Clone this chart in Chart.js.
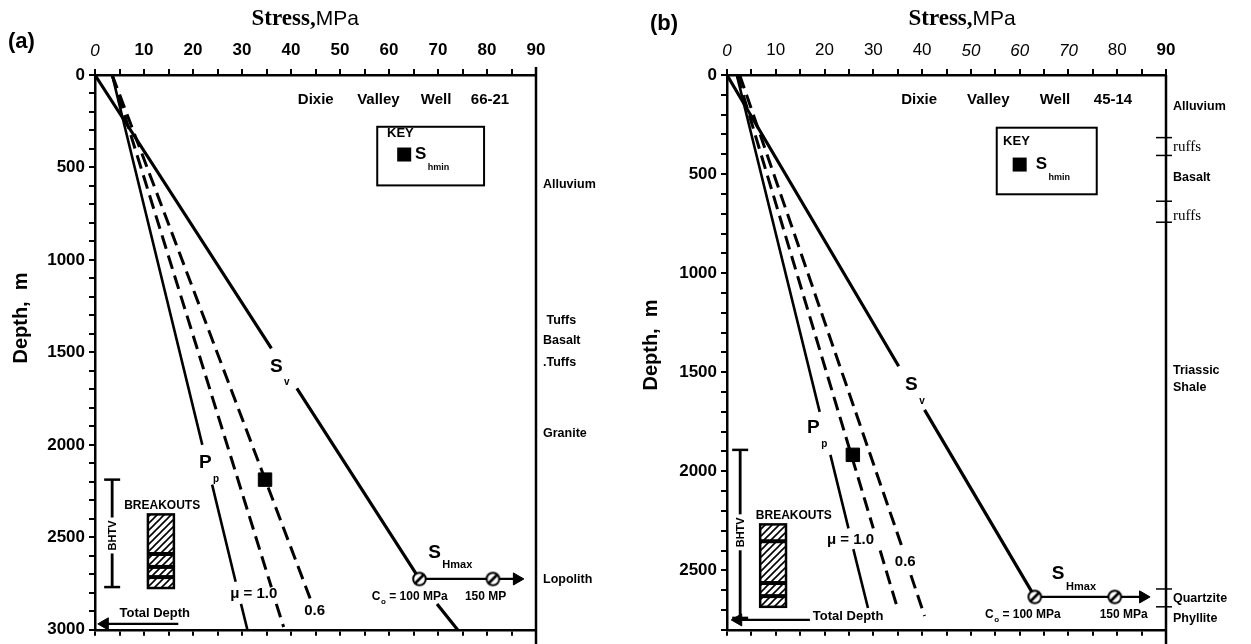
<!DOCTYPE html>
<html>
<head>
<meta charset="utf-8">
<title>Dixie Valley stress profiles</title>
<script src="https://cdn.jsdelivr.net/npm/chart.js@4.4.1/dist/chart.umd.min.js"></script>
<style>
  html, body { margin: 0; padding: 0; background: #fff; }
  #wrap { position: relative; width: 1251px; height: 644px; overflow: hidden; }
  canvas { position: absolute; top: 0; }
  #chartA { left: 0; }
  #chartB { left: 625px; }
</style>
</head>
<body>
<div id="wrap">
  <canvas id="chartA" width="625" height="644"></canvas>
  <canvas id="chartB" width="626" height="644"></canvas>
</div>
<script>
// ---------- data : points are [stress MPa, depth m], null leaves a gap for a label ----------
const stressTicks = [0, 10, 20, 30, 40, 50, 60, 70, 80, 90];
const depthLabelsA = [0, 500, 1000, 1500, 2000, 2500, 3000];
const depthLabelsB = [0, 500, 1000, 1500, 2000, 2500];

// (a) Dixie Valley Well 66-21
const svA    = [[0, 0], [36.0, 1478], null, [41.2, 1694], [66.2, 2725], null, [69.8, 2860], [74.0, 3000]];
const ppA    = [[3.5, 0], [21.9, 2000], null, [23.9, 2215], [28.7, 2740], null, [29.8, 2860], [31.1, 3000]];
const mu10A  = [[3.5, 0], [36.0, 2770], null, [37.0, 2860], [38.5, 2985]];
const mu06A  = [[3.5, 0], [43.9, 2830]];
const shminA = [[34.7, 2188]];
const shmaxA = [[66.2, 2725], [86.1, 2725]];
const coA    = [[66.2, 2725], [81.2, 2725]];      // Co = 100 MPa, 150 MPa
const bhtvA  = [[3.5, 2188], [3.5, 2769]];
const tdA    = [[17.0, 2968], [2.0, 2968]];
const breakoutXA = [10.8, 16.1];
const breakoutA = [2376, 2774];
const breakoutBandsA = [2590, 2660, 2715];
const unitsA = ['Alluvium', ' Tuffs', 'Basalt', '.Tuffs', 'Granite', 'Lopolith'];
const unitDepthsA = [591, 1328, 1435, 1554, 1941, 2726];

// (b) Dixie Valley Well 45-14
const svB    = [[0, 0], [35.2, 1470], null, [40.5, 1690], [63.1, 2634]];
const ppB    = [[2.0, 0], [19.0, 1700], null, [21.2, 1917], [24.9, 2288], null, [25.9, 2393], [28.9, 2690]];
const mu10B  = [[2.1, 0], [30.0, 2288], null, [31.4, 2400], [34.8, 2679]];
const mu06B  = [[2.6, 0], [35.9, 2383], null, [37.7, 2524], [40.5, 2730]];
const shminB = [[25.8, 1917]];
const shmaxB = [[63.1, 2634], [85.3, 2634]];
const coB    = [[63.1, 2634], [79.5, 2634]];
const bhtvB  = [[2.7, 1892], [2.7, 2740]];
const tdB    = [[17.0, 2750], [2.3, 2750]];
const breakoutXB = [6.8, 12.1];
const breakoutB = [2268, 2684];
const breakoutBandsB = [2353, 2564, 2630];
const unitsB = ['Alluvium', 'ruffs', 'Basalt', 'ruffs', 'Triassic', 'Shale', 'Quartzite', 'Phyllite'];
const unitDepthsB = [161, 366, 517, 712, 1490, 1575, 2644, 2745];
const contactsB = [316, 406, 637, 743, 2594, 2684];

// ---------- drawing helpers ----------
const SANS = '"Liberation Sans", Arial, Helvetica, sans-serif';
const SERIF = '"Liberation Serif", "Times New Roman", serif';

const hatch = (() => {
  const c = document.createElement('canvas');
  c.width = 7; c.height = 7;
  const g = c.getContext('2d');
  g.strokeStyle = '#000'; g.lineWidth = 1.6;
  g.beginPath();
  g.moveTo(-1, 8); g.lineTo(8, -1);
  g.moveTo(-1, 1); g.lineTo(1, -1);
  g.moveTo(6, 8); g.lineTo(8, 6);
  g.stroke();
  return c;
})();

const ring = (() => {
  const c = document.createElement('canvas');
  c.width = 17; c.height = 17;
  const g = c.getContext('2d');
  g.fillStyle = '#fff'; g.strokeStyle = '#000'; g.lineWidth = 2;
  g.beginPath(); g.arc(8.5, 8.5, 6.3, 0, Math.PI * 2); g.fill(); g.stroke();
  g.lineWidth = 2.6;
  g.beginPath(); g.moveTo(4.5, 12.5); g.lineTo(12.5, 4.5); g.stroke();
  return c;
})();

const toPts = arr => arr.map(p => p ? { x: p[0], y: p[1] } : { x: null, y: null });

function lineDs(arr, width, dash, cap) {
  return {
    data: toPts(arr), showLine: true, borderColor: '#000', borderWidth: width,
    borderDash: dash || [], spanGaps: false, tension: 0, clip: false,
    pointRadius: cap ? 8 : 0, pointStyle: cap ? 'line' : 'circle',
    pointBorderColor: '#000', pointBorderWidth: 2.5
  };
}

function markDs(arr, style, r, rot) {
  return {
    data: toPts(arr), showLine: false, clip: false,
    pointStyle: style, pointRadius: r, pointRotation: rot || 0,
    backgroundColor: '#000', borderColor: '#000', pointBorderWidth: 1
  };
}

const tickFontA = v => ({ family: SANS, size: 17, weight: v === 0 ? 'normal' : 'bold', style: v === 0 ? 'italic' : 'normal' });
const tickFontB = v => {
  if (v === 0 || (v >= 50 && v <= 70)) return { family: SANS, size: 17, weight: 'normal', style: 'italic' };
  return { family: SANS, size: 17, weight: v === 90 ? 'bold' : 'normal', style: 'normal' };
};

function withSub(ctx, s, sub, x, y, size, subSize, dy) {
  ctx.textAlign = 'left'; ctx.textBaseline = 'middle';
  ctx.font = `bold ${size}px ${SANS}`;
  ctx.fillText(s, x, y);
  const w = ctx.measureText(s).width;
  ctx.font = `bold ${subSize}px ${SANS}`;
  ctx.fillText(sub, x + w + 1.5, y + dy);
}

const sketch = {
  id: 'sketch',
  afterDatasetsDraw(chart, args, p) {
    const { ctx, chartArea: a, scales } = chart;
    const X = v => scales.x.getPixelForValue(v);
    const Y = d => scales.y.getPixelForValue(d);
    ctx.save();
    ctx.fillStyle = '#000'; ctx.strokeStyle = '#000';

    // frame line at 90 MPa, runs down past the plot
    ctx.lineWidth = 2.5;
    ctx.beginPath(); ctx.moveTo(X(90), a.top - p.frameRise); ctx.lineTo(X(90), chart.height); ctx.stroke();

    // lithology contacts and names
    ctx.lineWidth = 1.5;
    p.contacts.forEach(d => {
      ctx.beginPath(); ctx.moveTo(X(90) - 10, Y(d)); ctx.lineTo(X(90) + 6, Y(d)); ctx.stroke();
    });
    ctx.textAlign = 'left'; ctx.textBaseline = 'middle';
    p.units.forEach((u, i) => {
      ctx.font = u === 'ruffs' ? `normal 15px ${SERIF}` : `bold 12.5px ${SANS}`;
      ctx.fillText(u, X(90) + 7, Y(p.unitDepths[i]));
    });

    // breakouts column
    const b = p.breakout;
    const bx = X(b.x[0]), bw = X(b.x[1]) - bx, by = Y(b.d[0]), bh = Y(b.d[1]) - by;
    ctx.fillStyle = ctx.createPattern(hatch, 'repeat');
    ctx.fillRect(bx, by, bw, bh);
    ctx.fillStyle = '#000';
    b.bands.forEach(d => ctx.fillRect(bx, Y(d) - 2, bw, 4));
    ctx.lineWidth = 2.5; ctx.strokeRect(bx, by, bw, bh);
    ctx.font = `bold 12px ${SANS}`; ctx.textAlign = 'center';
    ctx.fillText('BREAKOUTS', X(b.label[0]), Y(b.label[1]));

    // BHTV label sitting on its bracket
    ctx.save();
    ctx.translate(X(p.bhtv[0][0]), Y(p.bhtvLabel));
    ctx.rotate(-Math.PI / 2);
    ctx.font = `bold 11px ${SANS}`;
    const bw2 = ctx.measureText('BHTV').width;
    ctx.fillStyle = '#fff'; ctx.fillRect(-bw2 / 2 - 3, -6, bw2 + 6, 12);
    ctx.fillStyle = '#000'; ctx.textAlign = 'center'; ctx.textBaseline = 'middle';
    ctx.fillText('BHTV', 0, 1);
    ctx.restore();

    // key
    const k = p.key;
    ctx.lineWidth = 2;
    ctx.strokeRect(X(k.box[0]), Y(k.box[2]), X(k.box[1]) - X(k.box[0]), Y(k.box[3]) - Y(k.box[2]));
    ctx.textAlign = 'left'; ctx.textBaseline = 'middle';
    ctx.font = `bold 13px ${SANS}`;
    ctx.fillText('KEY', X(k.label[0]), Y(k.label[1]));
    ctx.fillRect(X(k.sq[0]) - 7, Y(k.sq[1]) - 7, 14, 14);
    withSub(ctx, 'S', 'hmin', X(k.s[0]), Y(k.s[1]), 17, 9, 13);

    // well name
    ctx.font = `bold 15px ${SANS}`; ctx.textAlign = 'left';
    p.well.forEach((w, i) => ctx.fillText(w, X(p.wellX[i]), Y(p.wellD)));

    // curve labels
    withSub(ctx, 'P', 'p', X(p.ppLab[0]), Y(p.ppLab[1]), 19, 10, 16);
    withSub(ctx, 'S', 'v', X(p.svLab[0]), Y(p.svLab[1]), 19, 10, 16);
    withSub(ctx, 'S', 'Hmax', X(p.shLab[0]), Y(p.shLab[1]), 19, 11, 13);
    ctx.font = `bold 15px ${SANS}`; ctx.textAlign = 'left';
    ctx.fillText('\u03bc = 1.0', X(p.mu10Lab[0]), Y(p.mu10Lab[1]));
    ctx.fillText('0.6', X(p.mu06Lab[0]), Y(p.mu06Lab[1]));

    // Co labels
    const cx = X(p.coLab[0]), cy = Y(p.coLab[1]);
    ctx.font = `bold 12px ${SANS}`;
    ctx.fillText('C', cx, cy);
    let w = ctx.measureText('C').width;
    ctx.font = `bold 8px ${SANS}`;
    ctx.fillText('o', cx + w + 0.5, cy + 5);
    w += ctx.measureText('o').width + 0.5;
    ctx.font = `bold 12px ${SANS}`;
    ctx.fillText(' = 100 MPa', cx + w, cy);
    ctx.fillText(p.co150, X(p.co150Lab), cy);

    // total depth
    ctx.font = `bold 13px ${SANS}`;
    ctx.textAlign = p.tdLab[2];
    ctx.fillText('Total Depth', X(p.tdLab[0]), Y(p.tdLab[1]));

    // titles outside the plot
    ctx.textAlign = 'left';
    ctx.font = `bold 22px ${SANS}`;
    ctx.fillText(p.tag, p.tagXY[0], p.tagXY[1]);

    ctx.font = `bold 23px ${SERIF}`;
    const w1 = ctx.measureText('Stress,').width;
    ctx.font = `normal 21px ${SANS}`;
    const w2 = ctx.measureText('MPa').width;
    const sx = X(p.stressX) - (w1 + w2) / 2;
    ctx.font = `bold 23px ${SERIF}`;
    ctx.fillText('Stress,', sx, 19);
    ctx.font = `normal 21px ${SANS}`;
    ctx.fillText('MPa', sx + w1, 19);

    ctx.save();
    ctx.translate(p.depthXY[0], p.depthXY[1]);
    ctx.rotate(-Math.PI / 2);
    ctx.font = `bold 20px ${SANS}`; ctx.textAlign = 'center';
    ctx.fillText('Depth,  m', 0, 0);
    ctx.restore();

    ctx.restore();
  }
};
Chart.register(sketch);

function makeChart(id, p) {
  const axisLines = { drawOnChartArea: false, drawTicks: true, tickLength: 6, color: '#000', lineWidth: 2 };
  const border = { display: true, color: '#000', width: 2.5 };
  return new Chart(document.getElementById(id), {
    type: 'scatter',
    data: {
      datasets: [
        markDs(p.co, ring, 7),
        markDs(p.shmin, 'rect', 9.5),
        markDs([p.shmax[p.shmax.length - 1]], 'triangle', 7, 90),
        markDs([p.td[p.td.length - 1]], 'triangle', 7, -90),
        lineDs(p.sv, 3.2),
        lineDs(p.pp, 2.6),
        lineDs(p.mu10, 3, [14, 7]),
        lineDs(p.mu06, 3, [14, 7]),
        lineDs(p.shmax, 2.2),
        lineDs(p.bhtv, 2.8, [], true),
        lineDs(p.td, 2.2)
      ]
    },
    options: {
      responsive: false,
      animation: false,
      events: [],
      layout: { padding: { left: 0, top: 0, right: p.padRight, bottom: 0 } },
      plugins: { legend: { display: false }, tooltip: { enabled: false }, sketch: p },
      scales: {
        x: {
          type: 'linear', position: 'top', min: 0, max: 90,
          afterFit: s => { s.height = 75; },
          grid: axisLines, border,
          ticks: {
            stepSize: 5, autoSkip: false, maxRotation: 0, padding: 8, color: '#000',
            font: c => p.tickFont(c.tick ? c.tick.value : 0),
            callback: v => (stressTicks.includes(v) ? v : '')
          }
        },
        x2: {
          type: 'linear', position: 'bottom', min: 0, max: 90,
          afterFit: s => { s.height = 11; },
          grid: axisLines, border,
          ticks: { stepSize: 5, autoSkip: false, maxRotation: 0, callback: () => '' }
        },
        y: {
          type: 'linear', position: 'left', reverse: true, min: 0, max: p.maxDepth,
          afterFit: s => { s.width = p.axisLeft; },
          grid: axisLines, border,
          ticks: {
            stepSize: 100, autoSkip: false, padding: 4, color: '#000',
            font: { family: SANS, size: 17, weight: 'bold' },
            callback: v => (p.depthLabels.includes(v) ? v : '')
          }
        }
      }
    }
  });
}

makeChart('chartA', {
  padRight: 89, axisLeft: 95, maxDepth: 3000, tickFont: tickFontA, depthLabels: depthLabelsA,
  sv: svA, pp: ppA, mu10: mu10A, mu06: mu06A, shmin: shminA, shmax: shmaxA, co: coA, bhtv: bhtvA, td: tdA,
  frameRise: 8, contacts: [], units: unitsA, unitDepths: unitDepthsA,
  breakout: { x: breakoutXA, d: breakoutA, bands: breakoutBandsA, label: [13.7, 2328] },
  bhtvLabel: 2490,
  key: { box: [57.6, 79.4, 280, 597], label: [59.6, 317], sq: [63.1, 430], s: [65.3, 430] },
  well: ['Dixie', 'Valley', 'Well', '66-21'], wellX: [41.4, 53.5, 66.5, 76.7], wellD: 134,
  ppLab: [21.2, 2097], svLab: [35.7, 1575], shLab: [68.0, 2581],
  mu10Lab: [27.6, 2806], mu06Lab: [42.7, 2898],
  coLab: [56.5, 2823], co150: '150 MP', co150Lab: 75.5,
  tdLab: [12.2, 2914, 'center'],
  tag: '(a)', tagXY: [8, 42], stressX: 42.9, depthXY: [21, 318]
});

makeChart('chartB', {
  padRight: 85, axisLeft: 102, maxDepth: 2800, tickFont: tickFontB, depthLabels: depthLabelsB,
  sv: svB, pp: ppB, mu10: mu10B, mu06: mu06B, shmin: shminB, shmax: shmaxB, co: coB, bhtv: bhtvB, td: tdB,
  frameRise: 0, contacts: contactsB, units: unitsB, unitDepths: unitDepthsB,
  breakout: { x: breakoutXB, d: breakoutB, bands: breakoutBandsB, label: [13.7, 2223] },
  bhtvLabel: 2308,
  key: { box: [55.3, 75.8, 266, 602], label: [56.6, 336], sq: [60.0, 452], s: [63.3, 452] },
  well: ['Dixie', 'Valley', 'Well', '45-14'], wellX: [35.7, 49.2, 64.1, 75.2], wellD: 125,
  ppLab: [16.4, 1781], svLab: [36.5, 1565], shLab: [66.6, 2519],
  mu10Lab: [20.5, 2348], mu06Lab: [34.4, 2459],
  coLab: [52.9, 2724], co150: '150 MPa', co150Lab: 76.4,
  tdLab: [17.6, 2735, 'left'],
  tag: '(b)', tagXY: [25, 24], stressX: 48.2, depthXY: [26, 345]
});
</script>
</body>
</html>
